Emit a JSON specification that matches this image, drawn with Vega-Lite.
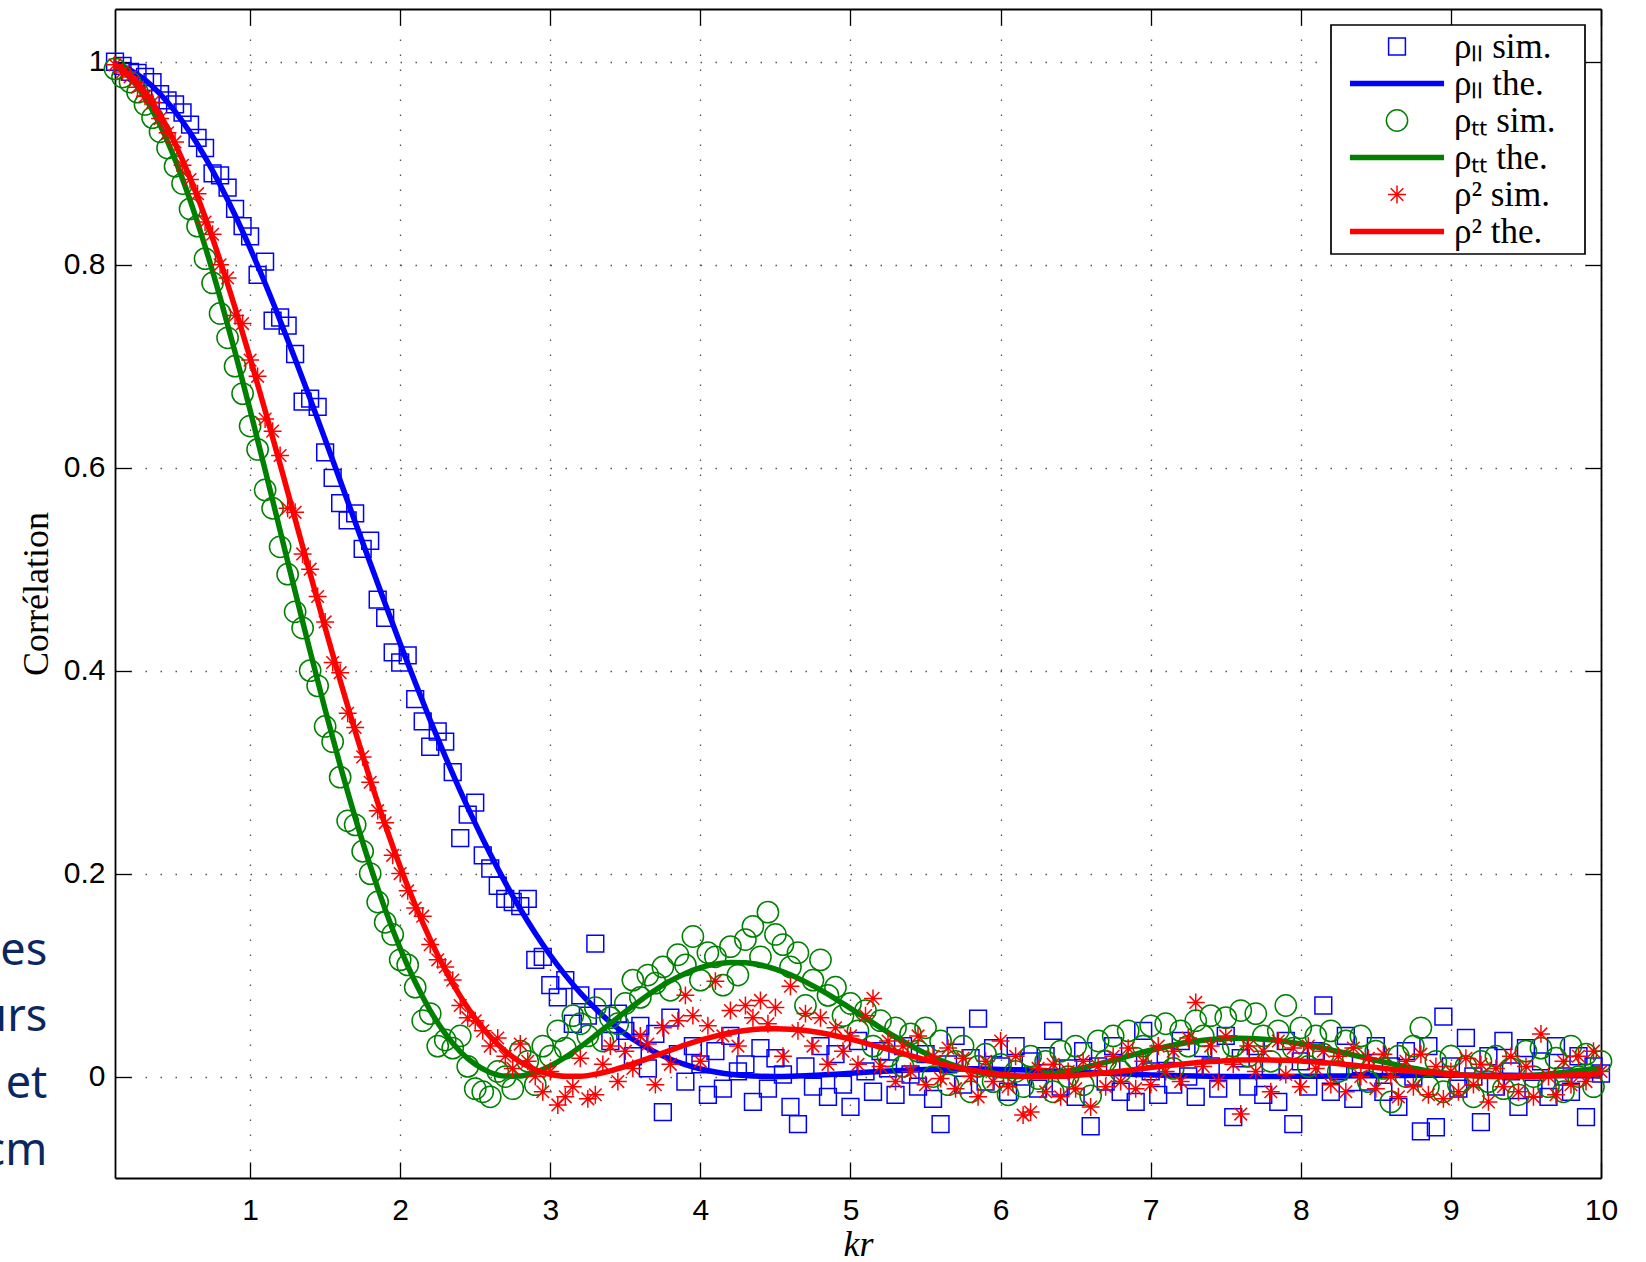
{
  "$schema": "https://vega.github.io/schema/vega-lite/v6.json",
  "width": 1486,
  "height": 1169,
  "autosize": "none",
  "padding": {"left": 115, "top": 9, "right": 45, "bottom": 84},
  "background": "white",
  "config": {
    "view": {"stroke": null},
    "axis": {"domainColor": "black", "domainWidth": 1.8, "tickColor": "black", "tickWidth": 1.3, "tickSize": -16, "labelColor": "black", "titleColor": "black", "grid": false},
    "legend": {
      "orient": "top-right", "offset": 16, "strokeColor": "black", "strokeWidth": 1.7, "fillColor": "white", "padding": 4,
      "labelFont": "Liberation Serif", "labelFontSize": 35, "labelColor": "black", "labelLimit": 400,
      "symbolSize": 784, "symbolStrokeWidth": 1.5, "symbolOffset": 44.5, "labelOffset": 39.5, "rowPadding": 1
    }
  },
  "datasets": {
    "theory": [
      {"x":0.1,"lt":0.998,"tt":0.996,"rt":0.9967},{"x":0.2,"lt":0.992,"tt":0.9841,"rt":0.9867},{"x":0.3,"lt":0.9821,"tt":0.9645,"rt":0.9704},
      {"x":0.4,"lt":0.9684,"tt":0.9376,"rt":0.9478},{"x":0.5,"lt":0.9511,"tt":0.9038,"rt":0.9194},{"x":0.6,"lt":0.9302,"tt":0.8637,"rt":0.8856},
      {"x":0.7,"lt":0.906,"tt":0.8182,"rt":0.847},{"x":0.8,"lt":0.8788,"tt":0.7679,"rt":0.8041},{"x":0.9,"lt":0.8488,"tt":0.7138,"rt":0.7575},
      {"x":1.0,"lt":0.8163,"tt":0.6568,"rt":0.7081},{"x":1.1,"lt":0.7817,"tt":0.5979,"rt":0.6564},{"x":1.2,"lt":0.7451,"tt":0.5379,"rt":0.6033},
      {"x":1.3,"lt":0.7071,"tt":0.478,"rt":0.5494},{"x":1.4,"lt":0.6679,"tt":0.4189,"rt":0.4955},{"x":1.5,"lt":0.6278,"tt":0.3616,"rt":0.4422},
      {"x":1.6,"lt":0.5873,"tt":0.3068,"rt":0.3903},{"x":1.7,"lt":0.5465,"tt":0.2554,"rt":0.3403},{"x":1.8,"lt":0.506,"tt":0.2078,"rt":0.2927},
      {"x":1.9,"lt":0.4659,"tt":0.1647,"rt":0.2481},{"x":2.0,"lt":0.4265,"tt":0.1263,"rt":0.2067},{"x":2.1,"lt":0.3882,"tt":0.0931,"rt":0.169},
      {"x":2.2,"lt":0.3511,"tt":0.065,"rt":0.1351},{"x":2.3,"lt":0.3155,"tt":0.0422,"rt":0.1051},{"x":2.4,"lt":0.2816,"tt":0.0246,"rt":0.0792},
      {"x":2.5,"lt":0.2495,"tt":0.012,"rt":0.0573},{"x":2.6,"lt":0.2193,"tt":0.004,"rt":0.0393},{"x":2.7,"lt":0.1911,"tt":0.0004,"rt":0.0251},
      {"x":2.8,"lt":0.1651,"tt":0.0006,"rt":0.0143},{"x":2.9,"lt":0.1412,"tt":0.0041,"rt":0.0068},{"x":3.0,"lt":0.1195,"tt":0.0105,"rt":0.0022},
      {"x":3.1,"lt":0.0999,"tt":0.019,"rt":0.0002},{"x":3.2,"lt":0.0824,"tt":0.0292,"rt":0.0003},{"x":3.3,"lt":0.067,"tt":0.0405,"rt":0.0023},
      {"x":3.4,"lt":0.0535,"tt":0.0522,"rt":0.0056},{"x":3.5,"lt":0.0419,"tt":0.0639,"rt":0.01},{"x":3.6,"lt":0.0321,"tt":0.075,"rt":0.0151},
      {"x":3.7,"lt":0.0239,"tt":0.0853,"rt":0.0205},{"x":3.8,"lt":0.0171,"tt":0.0942,"rt":0.0259},{"x":3.9,"lt":0.0118,"tt":0.1016,"rt":0.0311},
      {"x":4.0,"lt":0.0076,"tt":0.1072,"rt":0.0358},{"x":4.1,"lt":0.0045,"tt":0.1108,"rt":0.0398},{"x":4.2,"lt":0.0023,"tt":0.1124,"rt":0.0431},
      {"x":4.3,"lt":0.0009,"tt":0.1121,"rt":0.0454},{"x":4.4,"lt":0.0002,"tt":0.1099,"rt":0.0468},{"x":4.5,"lt":0.0,"tt":0.1059,"rt":0.0472},
      {"x":4.6,"lt":0.0002,"tt":0.1003,"rt":0.0467},{"x":4.7,"lt":0.0007,"tt":0.0933,"rt":0.0453},{"x":4.8,"lt":0.0015,"tt":0.0853,"rt":0.0431},
      {"x":4.9,"lt":0.0023,"tt":0.0765,"rt":0.0402},{"x":5.0,"lt":0.0033,"tt":0.0672,"rt":0.0368},{"x":5.1,"lt":0.0042,"tt":0.0576,"rt":0.033},
      {"x":5.2,"lt":0.005,"tt":0.0481,"rt":0.0289},{"x":5.3,"lt":0.0058,"tt":0.039,"rt":0.0247},{"x":5.4,"lt":0.0064,"tt":0.0305,"rt":0.0205},
      {"x":5.5,"lt":0.0069,"tt":0.0228,"rt":0.0165},{"x":5.6,"lt":0.0072,"tt":0.016,"rt":0.0127},{"x":5.7,"lt":0.0074,"tt":0.0104,"rt":0.0093},
      {"x":5.8,"lt":0.0074,"tt":0.0059,"rt":0.0064},{"x":5.9,"lt":0.0073,"tt":0.0027,"rt":0.004},{"x":6.0,"lt":0.007,"tt":0.0008,"rt":0.0022},
      {"x":6.1,"lt":0.0067,"tt":0.0,"rt":0.0009},{"x":6.2,"lt":0.0062,"tt":0.0004,"rt":0.0002},{"x":6.3,"lt":0.0057,"tt":0.0017,"rt":0.0},
      {"x":6.4,"lt":0.0051,"tt":0.004,"rt":0.0003},{"x":6.5,"lt":0.0045,"tt":0.0069,"rt":0.0011},{"x":6.6,"lt":0.0039,"tt":0.0104,"rt":0.0022},
      {"x":6.7,"lt":0.0033,"tt":0.0142,"rt":0.0037},{"x":6.8,"lt":0.0027,"tt":0.0182,"rt":0.0053},{"x":6.9,"lt":0.0021,"tt":0.0221,"rt":0.007},
      {"x":7.0,"lt":0.0016,"tt":0.0259,"rt":0.0088},{"x":7.1,"lt":0.0012,"tt":0.0294,"rt":0.0105},{"x":7.2,"lt":0.0008,"tt":0.0323,"rt":0.0122},
      {"x":7.3,"lt":0.0005,"tt":0.0347,"rt":0.0136},{"x":7.4,"lt":0.0003,"tt":0.0364,"rt":0.0147},{"x":7.5,"lt":0.0001,"tt":0.0374,"rt":0.0156},
      {"x":7.6,"lt":0.0,"tt":0.0377,"rt":0.0162},{"x":7.7,"lt":0.0,"tt":0.0373,"rt":0.0165},{"x":7.8,"lt":0.0,"tt":0.0362,"rt":0.0164},
      {"x":7.9,"lt":0.0001,"tt":0.0344,"rt":0.016},{"x":8.0,"lt":0.0002,"tt":0.0321,"rt":0.0153},{"x":8.1,"lt":0.0003,"tt":0.0293,"rt":0.0143},
      {"x":8.2,"lt":0.0004,"tt":0.0262,"rt":0.0132},{"x":8.3,"lt":0.0006,"tt":0.0229,"rt":0.0118},{"x":8.4,"lt":0.0007,"tt":0.0194,"rt":0.0104},
      {"x":8.5,"lt":0.0008,"tt":0.016,"rt":0.0088},{"x":8.6,"lt":0.001,"tt":0.0127,"rt":0.0073},{"x":8.7,"lt":0.0011,"tt":0.0096,"rt":0.0058},
      {"x":8.8,"lt":0.0012,"tt":0.0068,"rt":0.0044},{"x":8.9,"lt":0.0012,"tt":0.0045,"rt":0.0032},{"x":9.0,"lt":0.0013,"tt":0.0026,"rt":0.0021},
      {"x":9.1,"lt":0.0013,"tt":0.0012,"rt":0.0012},{"x":9.2,"lt":0.0013,"tt":0.0003,"rt":0.0006},{"x":9.3,"lt":0.0012,"tt":0.0,"rt":0.0002},
      {"x":9.4,"lt":0.0012,"tt":0.0002,"rt":0.0},{"x":9.5,"lt":0.0011,"tt":0.0008,"rt":0.0001},{"x":9.6,"lt":0.001,"tt":0.0018,"rt":0.0003},
      {"x":9.7,"lt":0.0009,"tt":0.0032,"rt":0.0008},{"x":9.8,"lt":0.0008,"tt":0.0049,"rt":0.0014},{"x":9.9,"lt":0.0007,"tt":0.0068,"rt":0.0021},
      {"x":10.0,"lt":0.0006,"tt":0.0087,"rt":0.003}
    ],
    "sim": [
      {"x":0.10,"ls":1.0,"ts":0.993,"rs":0.997},{"x":0.15,"ls":0.996,"ts":0.985,"rs":0.99},{"x":0.20,"ls":0.99,"ts":0.98,"rs":0.985},
      {"x":0.25,"ls":0.989,"ts":0.97,"rs":0.975},{"x":0.30,"ls":0.985,"ts":0.958,"rs":0.966},{"x":0.35,"ls":0.98,"ts":0.945,"rs":0.96},
      {"x":0.40,"ls":0.968,"ts":0.931,"rs":0.944},{"x":0.45,"ls":0.962,"ts":0.915,"rs":0.93},{"x":0.50,"ls":0.958,"ts":0.897,"rs":0.921},
      {"x":0.55,"ls":0.95,"ts":0.88,"rs":0.898},{"x":0.60,"ls":0.938,"ts":0.855,"rs":0.884},{"x":0.65,"ls":0.925,"ts":0.838,"rs":0.87},
      {"x":0.70,"ls":0.915,"ts":0.806,"rs":0.842},{"x":0.75,"ls":0.89,"ts":0.782,"rs":0.83},{"x":0.80,"ls":0.888,"ts":0.752,"rs":0.8},
      {"x":0.85,"ls":0.876,"ts":0.728,"rs":0.787},{"x":0.90,"ls":0.855,"ts":0.7,"rs":0.75},{"x":0.95,"ls":0.838,"ts":0.673,"rs":0.742},
      {"x":1.00,"ls":0.828,"ts":0.641,"rs":0.706},{"x":1.05,"ls":0.79,"ts":0.618,"rs":0.69},{"x":1.10,"ls":0.803,"ts":0.578,"rs":0.648},
      {"x":1.15,"ls":0.745,"ts":0.56,"rs":0.636},{"x":1.20,"ls":0.748,"ts":0.522,"rs":0.612},{"x":1.25,"ls":0.74,"ts":0.495,"rs":0.56},
      {"x":1.30,"ls":0.712,"ts":0.458,"rs":0.556},{"x":1.35,"ls":0.665,"ts":0.442,"rs":0.515},{"x":1.40,"ls":0.668,"ts":0.4,"rs":0.5},
      {"x":1.45,"ls":0.66,"ts":0.385,"rs":0.473},{"x":1.50,"ls":0.615,"ts":0.345,"rs":0.448},{"x":1.55,"ls":0.59,"ts":0.33,"rs":0.408},
      {"x":1.60,"ls":0.565,"ts":0.295,"rs":0.398},{"x":1.65,"ls":0.548,"ts":0.252,"rs":0.358},{"x":1.70,"ls":0.555,"ts":0.248,"rs":0.344},
      {"x":1.75,"ls":0.52,"ts":0.222,"rs":0.315},{"x":1.80,"ls":0.528,"ts":0.2,"rs":0.29},{"x":1.85,"ls":0.47,"ts":0.172,"rs":0.262},
      {"x":1.90,"ls":0.452,"ts":0.152,"rs":0.25},{"x":1.95,"ls":0.418,"ts":0.14,"rs":0.218},{"x":2.00,"ls":0.408,"ts":0.115,"rs":0.2},
      {"x":2.05,"ls":0.415,"ts":0.11,"rs":0.183},{"x":2.10,"ls":0.372,"ts":0.088,"rs":0.166},{"x":2.15,"ls":0.35,"ts":0.055,"rs":0.158},
      {"x":2.20,"ls":0.325,"ts":0.062,"rs":0.13},{"x":2.25,"ls":0.34,"ts":0.03,"rs":0.115},{"x":2.30,"ls":0.33,"ts":0.036,"rs":0.108},
      {"x":2.35,"ls":0.3,"ts":0.028,"rs":0.095},{"x":2.40,"ls":0.235,"ts":0.04,"rs":0.07},{"x":2.45,"ls":0.258,"ts":0.01,"rs":0.058},
      {"x":2.50,"ls":0.27,"ts":-0.012,"rs":0.055},{"x":2.55,"ls":0.218,"ts":-0.015,"rs":0.045},{"x":2.60,"ls":0.205,"ts":-0.02,"rs":0.03},
      {"x":2.65,"ls":0.188,"ts":0.005,"rs":0.038},{"x":2.70,"ls":0.175,"ts":0.0,"rs":0.02},{"x":2.75,"ls":0.172,"ts":-0.012,"rs":0.008},
      {"x":2.80,"ls":0.168,"ts":0.025,"rs":0.032},{"x":2.85,"ls":0.175,"ts":0.015,"rs":0.015},{"x":2.90,"ls":0.115,"ts":-0.008,"rs":0.0},
      {"x":2.95,"ls":0.118,"ts":0.03,"rs":-0.015},{"x":3.00,"ls":0.09,"ts":0.02,"rs":0.005},{"x":3.05,"ls":0.078,"ts":0.045,"rs":-0.028},
      {"x":3.10,"ls":0.095,"ts":0.028,"rs":-0.02},{"x":3.15,"ls":0.052,"ts":0.06,"rs":-0.01},{"x":3.20,"ls":0.08,"ts":0.052,"rs":0.018},
      {"x":3.25,"ls":0.06,"ts":0.04,"rs":-0.022},{"x":3.30,"ls":0.131,"ts":0.068,"rs":-0.018},{"x":3.35,"ls":0.078,"ts":0.035,"rs":0.012},
      {"x":3.40,"ls":0.035,"ts":0.058,"rs":0.03},{"x":3.45,"ls":0.062,"ts":0.052,"rs":-0.005},{"x":3.50,"ls":0.045,"ts":0.072,"rs":0.025},
      {"x":3.55,"ls":0.02,"ts":0.095,"rs":0.008},{"x":3.60,"ls":0.05,"ts":0.078,"rs":0.04},{"x":3.65,"ls":0.008,"ts":0.1,"rs":0.032},
      {"x":3.70,"ls":0.042,"ts":0.092,"rs":-0.008},{"x":3.75,"ls":-0.035,"ts":0.108,"rs":0.048},{"x":3.80,"ls":0.058,"ts":0.085,"rs":0.012},
      {"x":3.85,"ls":0.022,"ts":0.12,"rs":0.055},{"x":3.90,"ls":-0.005,"ts":0.11,"rs":0.08},{"x":3.95,"ls":0.03,"ts":0.138,"rs":0.06},
      {"x":4.00,"ls":0.012,"ts":0.095,"rs":0.015},{"x":4.05,"ls":-0.018,"ts":0.122,"rs":0.05},{"x":4.10,"ls":0.025,"ts":0.118,"rs":0.094},
      {"x":4.15,"ls":-0.012,"ts":0.09,"rs":0.04},{"x":4.20,"ls":0.04,"ts":0.128,"rs":0.065},{"x":4.25,"ls":0.005,"ts":0.1,"rs":0.03},
      {"x":4.30,"ls":0.012,"ts":0.135,"rs":0.07},{"x":4.35,"ls":-0.025,"ts":0.148,"rs":0.058},{"x":4.40,"ls":0.028,"ts":0.118,"rs":0.075},
      {"x":4.45,"ls":-0.012,"ts":0.162,"rs":0.052},{"x":4.50,"ls":0.018,"ts":0.14,"rs":0.068},{"x":4.55,"ls":0.002,"ts":0.13,"rs":0.02},
      {"x":4.60,"ls":-0.03,"ts":0.108,"rs":0.089},{"x":4.65,"ls":-0.047,"ts":0.122,"rs":0.045},{"x":4.70,"ls":0.01,"ts":0.07,"rs":0.062},
      {"x":4.75,"ls":-0.01,"ts":0.095,"rs":0.03},{"x":4.80,"ls":0.03,"ts":0.115,"rs":0.058},{"x":4.85,"ls":-0.02,"ts":0.08,"rs":0.012},
      {"x":4.90,"ls":0.022,"ts":0.088,"rs":0.048},{"x":4.95,"ls":-0.008,"ts":0.06,"rs":0.025},{"x":5.00,"ls":-0.03,"ts":0.072,"rs":0.04},
      {"x":5.05,"ls":0.035,"ts":0.045,"rs":0.012},{"x":5.10,"ls":0.005,"ts":0.065,"rs":0.06},{"x":5.15,"ls":-0.015,"ts":0.03,"rs":0.077},
      {"x":5.20,"ls":0.025,"ts":0.055,"rs":0.01},{"x":5.25,"ls":0.008,"ts":0.02,"rs":0.035},{"x":5.30,"ls":-0.018,"ts":0.048,"rs":-0.005},
      {"x":5.35,"ls":0.03,"ts":0.01,"rs":0.03},{"x":5.40,"ls":0.002,"ts":0.042,"rs":0.005},{"x":5.45,"ls":-0.01,"ts":0.025,"rs":0.04},
      {"x":5.50,"ls":0.022,"ts":0.048,"rs":-0.008},{"x":5.55,"ls":-0.022,"ts":0.0,"rs":0.02},{"x":5.60,"ls":-0.047,"ts":0.035,"rs":-0.002},
      {"x":5.65,"ls":0.012,"ts":-0.008,"rs":0.028},{"x":5.70,"ls":0.04,"ts":0.015,"rs":-0.012},{"x":5.75,"ls":-0.008,"ts":0.03,"rs":0.018},
      {"x":5.80,"ls":0.018,"ts":-0.015,"rs":0.0},{"x":5.85,"ls":0.057,"ts":0.01,"rs":-0.02},{"x":5.90,"ls":-0.005,"ts":0.022,"rs":0.015},
      {"x":5.95,"ls":0.028,"ts":-0.005,"rs":-0.005},{"x":6.00,"ls":0.01,"ts":0.012,"rs":0.035},{"x":6.05,"ls":-0.015,"ts":-0.018,"rs":-0.01},
      {"x":6.10,"ls":0.03,"ts":0.005,"rs":0.02},{"x":6.15,"ls":0.0,"ts":-0.01,"rs":-0.038},{"x":6.20,"ls":0.015,"ts":0.02,"rs":-0.035},
      {"x":6.25,"ls":-0.012,"ts":-0.002,"rs":0.008},{"x":6.30,"ls":0.02,"ts":0.015,"rs":-0.015},{"x":6.35,"ls":0.045,"ts":-0.015,"rs":0.012},
      {"x":6.40,"ls":-0.01,"ts":0.025,"rs":-0.02},{"x":6.45,"ls":0.008,"ts":0.0,"rs":0.005},{"x":6.50,"ls":-0.02,"ts":0.03,"rs":-0.012},
      {"x":6.55,"ls":0.025,"ts":-0.008,"rs":0.015},{"x":6.60,"ls":-0.049,"ts":-0.019,"rs":-0.03},{"x":6.65,"ls":0.01,"ts":0.035,"rs":0.01},
      {"x":6.70,"ls":-0.005,"ts":0.015,"rs":-0.01},{"x":6.75,"ls":0.03,"ts":0.04,"rs":0.02},{"x":6.80,"ls":-0.015,"ts":0.005,"rs":-0.005},
      {"x":6.85,"ls":0.012,"ts":0.045,"rs":0.028},{"x":6.90,"ls":-0.025,"ts":0.018,"rs":-0.012},{"x":6.95,"ls":0.045,"ts":0.03,"rs":0.015},
      {"x":7.00,"ls":0.005,"ts":0.05,"rs":-0.008},{"x":7.05,"ls":-0.018,"ts":0.02,"rs":0.03},{"x":7.10,"ls":0.022,"ts":0.052,"rs":0.005},
      {"x":7.15,"ls":-0.008,"ts":0.008,"rs":0.025},{"x":7.20,"ls":0.035,"ts":0.045,"rs":-0.005},{"x":7.25,"ls":0.0,"ts":0.03,"rs":0.038},
      {"x":7.30,"ls":-0.02,"ts":0.055,"rs":0.073},{"x":7.35,"ls":0.028,"ts":0.04,"rs":0.01},{"x":7.40,"ls":0.01,"ts":0.06,"rs":0.03},
      {"x":7.45,"ls":-0.012,"ts":0.025,"rs":-0.005},{"x":7.50,"ls":0.04,"ts":0.058,"rs":0.04},{"x":7.55,"ls":-0.04,"ts":0.03,"rs":0.012},
      {"x":7.60,"ls":0.018,"ts":0.065,"rs":-0.037},{"x":7.65,"ls":-0.01,"ts":0.02,"rs":0.03},{"x":7.70,"ls":0.03,"ts":0.062,"rs":0.005},
      {"x":7.75,"ls":-0.018,"ts":0.04,"rs":0.025},{"x":7.80,"ls":0.008,"ts":0.015,"rs":-0.015},{"x":7.85,"ls":-0.025,"ts":0.045,"rs":0.035},
      {"x":7.90,"ls":0.035,"ts":0.07,"rs":0.002},{"x":7.95,"ls":-0.047,"ts":0.028,"rs":0.028},{"x":8.00,"ls":0.015,"ts":0.048,"rs":-0.01},
      {"x":8.05,"ls":-0.01,"ts":0.01,"rs":0.03},{"x":8.10,"ls":0.025,"ts":0.04,"rs":0.008},{"x":8.15,"ls":0.07,"ts":0.022,"rs":0.025},
      {"x":8.20,"ls":-0.015,"ts":0.045,"rs":-0.008},{"x":8.25,"ls":0.005,"ts":0.005,"rs":0.02},{"x":8.30,"ls":0.04,"ts":0.035,"rs":-0.015},
      {"x":8.35,"ls":-0.022,"ts":0.018,"rs":0.028},{"x":8.40,"ls":0.012,"ts":0.04,"rs":0.0},{"x":8.45,"ls":-0.005,"ts":-0.005,"rs":0.018},
      {"x":8.50,"ls":0.03,"ts":0.025,"rs":-0.012},{"x":8.55,"ls":-0.015,"ts":0.008,"rs":0.022},{"x":8.60,"ls":0.01,"ts":-0.025,"rs":0.0},
      {"x":8.65,"ls":-0.03,"ts":0.02,"rs":-0.02},{"x":8.70,"ls":0.025,"ts":0.0,"rs":0.015},{"x":8.75,"ls":0.0,"ts":0.03,"rs":-0.01},
      {"x":8.80,"ls":-0.054,"ts":0.048,"rs":0.022},{"x":8.85,"ls":0.03,"ts":-0.01,"rs":-0.018},{"x":8.90,"ls":-0.05,"ts":0.015,"rs":0.01},
      {"x":8.95,"ls":0.059,"ts":-0.015,"rs":-0.022},{"x":9.00,"ls":0.01,"ts":0.02,"rs":0.005},{"x":9.05,"ls":-0.012,"ts":-0.008,"rs":-0.015},
      {"x":9.10,"ls":0.038,"ts":0.01,"rs":0.018},{"x":9.15,"ls":0.0,"ts":-0.02,"rs":-0.008},{"x":9.20,"ls":-0.045,"ts":0.015,"rs":0.012},
      {"x":9.25,"ls":0.02,"ts":-0.005,"rs":-0.025},{"x":9.30,"ls":-0.01,"ts":0.02,"rs":0.008},{"x":9.35,"ls":0.035,"ts":-0.012,"rs":-0.01},
      {"x":9.40,"ls":0.005,"ts":0.008,"rs":0.02},{"x":9.45,"ls":-0.03,"ts":-0.018,"rs":-0.015},{"x":9.50,"ls":0.028,"ts":0.025,"rs":0.01},
      {"x":9.55,"ls":-0.012,"ts":0.0,"rs":-0.02},{"x":9.60,"ls":0.015,"ts":0.028,"rs":0.042},{"x":9.65,"ls":-0.02,"ts":-0.01,"rs":0.0},
      {"x":9.70,"ls":0.03,"ts":0.018,"rs":-0.018},{"x":9.75,"ls":0.0,"ts":-0.015,"rs":0.015},{"x":9.80,"ls":-0.015,"ts":0.03,"rs":-0.008},
      {"x":9.85,"ls":0.02,"ts":0.0,"rs":0.02},{"x":9.90,"ls":-0.04,"ts":0.022,"rs":-0.005},{"x":9.95,"ls":0.01,"ts":-0.01,"rs":0.025},
      {"x":10.00,"ls":0.003,"ts":0.015,"rs":0.005}
    ]
  },
  "layer": [
    {
      "data": {"name": "sim"},
      "transform": [{"fold": ["ls"], "as": ["k", "v"]}],
      "mark": {"type": "point", "filled": false, "size": 784, "strokeWidth": 1.5, "opacity": 1, "clip": false},
      "encoding": {
        "x": {"field": "x", "type": "quantitative", "scale": {"domain": [0.1, 10], "nice": false, "zero": false},
          "axis": {"orient": "bottom", "values": [1,2,3,4,5,6,7,8,9,10], "format": "d", "grid": true, "gridColor": "#555555", "gridDash": [1.5, 13.5], "gridWidth": 1.3,
            "tickSize": -16, "labelPadding": 33, "labelFont": "Liberation Sans", "labelFontSize": 30, "labelFlush": false, "labelOverlap": false,
            "title": "kr", "titleFont": "Liberation Serif", "titleFontStyle": "italic", "titleFontWeight": "normal", "titleFontSize": 36, "titlePadding": 2}},
        "y": {"field": "v", "type": "quantitative", "scale": {"domain": [-0.1, 1.052], "nice": false, "zero": false},
          "axis": {"orient": "left", "values": [0,0.2,0.4,0.6,0.8,1], "format": "~g", "grid": true, "gridColor": "#555555", "gridDash": [1.5, 13.5], "gridWidth": 1.3,
            "tickSize": -16, "labelPadding": 26, "labelFont": "Liberation Sans", "labelFontSize": 30, "labelFlush": false, "labelOverlap": false,
            "title": "Corrélation", "titleFont": "Liberation Serif", "titleFontWeight": "normal", "titleFontSize": 36, "titlePadding": 8}},
        "color": {"field": "k", "type": "nominal",
          "scale": {"domain": ["ls","lt","ts","tt","rs","rt"], "range": ["#0000ff","#0000ff","#008000","#008000","#ff0000","#ff0000"]},
          "legend": {"title": null,
            "labelExpr": "datum.value == 'ls' ? 'ρₗₗ sim.' : datum.value == 'lt' ? 'ρₗₗ the.' : datum.value == 'ts' ? 'ρₜₜ sim.' : datum.value == 'tt' ? 'ρₜₜ the.' : datum.value == 'rs' ? 'ρ² sim.' : 'ρ² the.'",
            "encode": {"symbols": {"update": {"fill": {"value": "transparent"}, "stroke": {"scale": "color", "field": "value"}, "strokeWidth": {"value": 1.5}, "opacity": {"value": 1}}}}}},
        "shape": {"field": "k", "type": "nominal",
          "scale": {"domain": ["ls","lt","ts","tt","rs","rt"], "range": [
            "M-0.6,-0.6H0.6V0.6H-0.6Z",
            "M-3.36,-0.14H3.36M-3.36,-0.047H3.36M-3.36,0.047H3.36M-3.36,0.14H3.36M12.9,0",
            "M-0.76,0A0.76,0.76,0,1,1,0.76,0A0.76,0.76,0,1,1,-0.76,0Z",
            "M-3.36,-0.14H3.36M-3.36,-0.047H3.36M-3.36,0.047H3.36M-3.36,0.14H3.36M12.9,0",
            "M0,-0.64V0.64M-0.64,0H0.64M-0.45,-0.45L0.45,0.45M-0.45,0.45L0.45,-0.45",
            "M-3.36,-0.14H3.36M-3.36,-0.047H3.36M-3.36,0.047H3.36M-3.36,0.14H3.36M12.9,0"]}}
      }
    },
    {
      "data": {"name": "theory"},
      "transform": [{"fold": ["lt"], "as": ["k", "v"]}],
      "mark": {"type": "line", "strokeWidth": 5.5, "interpolate": "monotone", "clip": false},
      "encoding": {
        "x": {"field": "x", "type": "quantitative", "scale": {"domain": [0.1, 10], "nice": false, "zero": false},
          "axis": {"orient": "top", "values": [1,2,3,4,5,6,7,8,9,10], "labels": false, "grid": false, "title": null, "tickSize": -16}},
        "y": {"field": "v", "type": "quantitative", "scale": {"domain": [-0.1, 1.052], "nice": false, "zero": false},
          "axis": {"orient": "right", "values": [0,0.2,0.4,0.6,0.8,1], "labels": false, "grid": false, "title": null, "tickSize": -16}},
        "color": {"field": "k", "type": "nominal", "scale": {"domain": ["ls","lt","ts","tt","rs","rt"], "range": ["#0000ff","#0000ff","#008000","#008000","#ff0000","#ff0000"]}}
      }
    },
    {
      "data": {"name": "sim"},
      "transform": [{"fold": ["ts"], "as": ["k", "v"]}],
      "mark": {"type": "point", "filled": false, "size": 784, "strokeWidth": 1.5, "opacity": 1, "clip": false},
      "encoding": {
        "x": {"field": "x", "type": "quantitative", "scale": {"domain": [0.1, 10], "nice": false, "zero": false}, "axis": null},
        "y": {"field": "v", "type": "quantitative", "scale": {"domain": [-0.1, 1.052], "nice": false, "zero": false}, "axis": null},
        "color": {"field": "k", "type": "nominal", "scale": {"domain": ["ls","lt","ts","tt","rs","rt"], "range": ["#0000ff","#0000ff","#008000","#008000","#ff0000","#ff0000"]}},
        "shape": {"field": "k", "type": "nominal"}
      }
    },
    {
      "data": {"name": "theory"},
      "transform": [{"fold": ["tt"], "as": ["k", "v"]}],
      "mark": {"type": "line", "strokeWidth": 5.5, "interpolate": "monotone", "clip": false},
      "encoding": {
        "x": {"field": "x", "type": "quantitative", "scale": {"domain": [0.1, 10], "nice": false, "zero": false}, "axis": null},
        "y": {"field": "v", "type": "quantitative", "scale": {"domain": [-0.1, 1.052], "nice": false, "zero": false}, "axis": null},
        "color": {"field": "k", "type": "nominal", "scale": {"domain": ["ls","lt","ts","tt","rs","rt"], "range": ["#0000ff","#0000ff","#008000","#008000","#ff0000","#ff0000"]}}
      }
    },
    {
      "data": {"name": "sim"},
      "transform": [{"fold": ["rs"], "as": ["k", "v"]}],
      "mark": {"type": "point", "filled": false, "size": 784, "strokeWidth": 1.5, "opacity": 1, "clip": false},
      "encoding": {
        "x": {"field": "x", "type": "quantitative", "scale": {"domain": [0.1, 10], "nice": false, "zero": false}, "axis": null},
        "y": {"field": "v", "type": "quantitative", "scale": {"domain": [-0.1, 1.052], "nice": false, "zero": false}, "axis": null},
        "color": {"field": "k", "type": "nominal", "scale": {"domain": ["ls","lt","ts","tt","rs","rt"], "range": ["#0000ff","#0000ff","#008000","#008000","#ff0000","#ff0000"]}},
        "shape": {"field": "k", "type": "nominal"}
      }
    },
    {
      "data": {"name": "theory"},
      "transform": [{"fold": ["rt"], "as": ["k", "v"]}],
      "mark": {"type": "line", "strokeWidth": 5.5, "interpolate": "monotone", "clip": false},
      "encoding": {
        "x": {"field": "x", "type": "quantitative", "scale": {"domain": [0.1, 10], "nice": false, "zero": false}, "axis": null},
        "y": {"field": "v", "type": "quantitative", "scale": {"domain": [-0.1, 1.052], "nice": false, "zero": false}, "axis": null},
        "color": {"field": "k", "type": "nominal", "scale": {"domain": ["ls","lt","ts","tt","rs","rt"], "range": ["#0000ff","#0000ff","#008000","#008000","#ff0000","#ff0000"]}}
      }
    },
    {
      "data": {"values": [{"t": "es"}]},
      "mark": {"type": "text", "align": "right", "baseline": "alphabetic", "font": "Noto Sans", "fontSize": 45, "color": "#0a285f", "clip": false},
      "encoding": {
        "text": {"field": "t"},
        "x": {"datum": -0.351, "type": "quantitative", "scale": {"domain": [0.1, 10], "nice": false, "zero": false}, "axis": null},
        "y": {"datum": 0.1103, "type": "quantitative", "scale": {"domain": [-0.1, 1.052], "nice": false, "zero": false}, "axis": null}
      }
    },
    {
      "data": {"values": [{"t": "urs"}]},
      "mark": {"type": "text", "align": "right", "baseline": "alphabetic", "font": "Noto Sans", "fontSize": 45, "color": "#0a285f", "clip": false},
      "encoding": {
        "text": {"field": "t"},
        "x": {"datum": -0.351, "type": "quantitative", "scale": {"domain": [0.1, 10], "nice": false, "zero": false}, "axis": null},
        "y": {"datum": 0.0446, "type": "quantitative", "scale": {"domain": [-0.1, 1.052], "nice": false, "zero": false}, "axis": null}
      }
    },
    {
      "data": {"values": [{"t": "et"}]},
      "mark": {"type": "text", "align": "right", "baseline": "alphabetic", "font": "Noto Sans", "fontSize": 45, "color": "#0a285f", "clip": false},
      "encoding": {
        "text": {"field": "t"},
        "x": {"datum": -0.351, "type": "quantitative", "scale": {"domain": [0.1, 10], "nice": false, "zero": false}, "axis": null},
        "y": {"datum": -0.0207, "type": "quantitative", "scale": {"domain": [-0.1, 1.052], "nice": false, "zero": false}, "axis": null}
      }
    },
    {
      "data": {"values": [{"t": "cm"}]},
      "mark": {"type": "text", "align": "right", "baseline": "alphabetic", "font": "Noto Sans", "fontSize": 45, "color": "#0a285f", "clip": false},
      "encoding": {
        "text": {"field": "t"},
        "x": {"datum": -0.351, "type": "quantitative", "scale": {"domain": [0.1, 10], "nice": false, "zero": false}, "axis": null},
        "y": {"datum": -0.0867, "type": "quantitative", "scale": {"domain": [-0.1, 1.052], "nice": false, "zero": false}, "axis": null}
      }
    }
  ],
  "resolve": {"axis": {"x": "independent", "y": "independent"}}
}
